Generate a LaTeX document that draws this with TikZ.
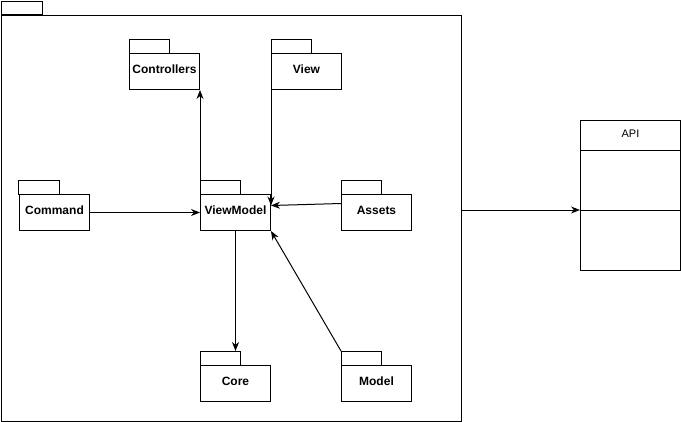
\documentclass[tikz,border=0pt]{standalone}
\usepackage{fontspec}
\setmainfont{Liberation Sans}
\usetikzlibrary{positioning, arrows.meta}

\begin{document}
\begin{tikzpicture}[
		x=1pt, y=-1pt,
		font=\fontsize{12pt}{14pt}\selectfont,
		line width=1pt,
		pkg/.style={
			draw,
			minimum width=70pt,
			minimum height=36pt,
			inner sep=0pt,
			text height=8pt,
			text depth=4pt,
			font=\fontsize{12pt}{14pt}\selectfont\bfseries,
			fill=white
		},
		dep/.style={-{Stealth[length=9pt,width=7pt]}}
		]
		\useasboundingbox (-0.5,-0.5) rectangle (680.5,420.5);
		
		% --- Outer package ---
		\node[draw, minimum width=459pt, minimum height=406pt, anchor=north west] (sys) at (1,14) {};
		\draw (sys.north west) rectangle ++(41,-13);
		
		% --- ViewModel (centre) ---
		\node[pkg] (vm) at (235,212) {ViewModel};
		
		% --- Packages around it ---
		\node[pkg, left=110pt of vm] (cmd) {Command};
		\node[pkg, right=70pt of vm] (assets) {Assets};
		\node[pkg, above left=104pt and 0pt of vm] (ctrl) {Controllers};
		\node[pkg, above right=104pt and 0pt of vm] (view) {View};
		\node[pkg, below=134pt of vm] (core) {Core};
		\node[pkg, right=70pt of core] (model) {Model};
		
		% --- Tabs ---
		\foreach \n in {vm, cmd, assets, ctrl, view, core, model}
			\draw (\n.north west) rectangle ++(40,-14);
		
		% --- API class ---
		\node[draw, minimum width=100pt, minimum height=150pt] (api) at (630,195) {};
		\node[below=6pt of api.north, font=\fontsize{11pt}{13pt}\selectfont] (apititle) {API};
		\draw ([yshift=-30pt]api.north west) -- ([yshift=-30pt]api.north east);
		\coordinate (apimid) at ([yshift=-90pt]api.north west);
		\draw (apimid) -- ([yshift=-90pt]api.north east);
		
		% --- Dependencies ---
		\coordinate (vmin) at ([yshift=7pt]vm.east);
		\draw[dep] (cmd) -- (vm);
		\draw[dep] (vm.north west) -- (ctrl.south east);
		\draw[dep] (view.south west) -- (vmin);
		\draw[dep] ([yshift=9pt]assets.west) -- (vmin);
		\draw[dep] (vm.south) -- ([yshift=14pt]core.north);
		\draw[dep] ([yshift=14pt]model.north west) -- (vm.south east);
		\draw[dep] (sys.east |- apimid) -- (apimid);
		
	\end{tikzpicture}
\end{document}
